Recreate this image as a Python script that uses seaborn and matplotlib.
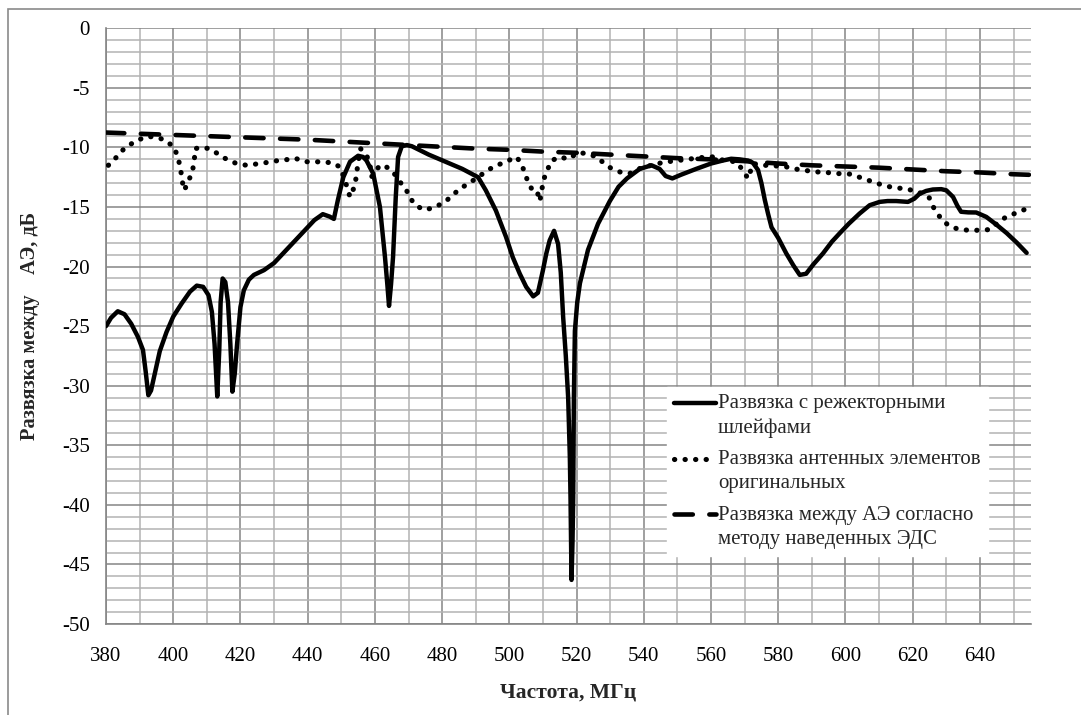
import numpy as np
import pandas as pd
import matplotlib
matplotlib.use("Agg")
import matplotlib.pyplot as plt
from matplotlib.patches import Rectangle
from matplotlib.ticker import MultipleLocator
from matplotlib.legend_handler import HandlerLine2D
from matplotlib.lines import Line2D
import seaborn as sns

# --- data -------------------------------------------------------------------
# Isolation with notch stubs (solid)
freq_notch = [380.0, 381.5, 383.5, 385.5, 387.5, 389.5, 391.0, 391.8, 392.6, 393.4,
              394.5, 396.0, 398.0, 400.0, 402.5, 405.0, 407.0, 408.9, 410.5, 411.5,
              412.3, 413.1, 413.7, 414.1, 414.7, 415.5, 416.3, 417.0, 417.6, 418.3,
              419.0, 420.0, 421.0, 422.5, 424.0, 427.0, 430.0, 433.0, 436.0, 439.0,
              442.0, 444.5, 446.5, 447.8, 449.0, 450.6, 452.6, 455.0, 456.5, 457.5,
              459.5, 461.5, 463.0, 463.7, 464.2, 464.8, 465.4, 466.2, 466.9, 468.0,
              469.5, 471.0, 476.0, 481.0, 486.0, 490.7, 493.0, 496.0, 499.0, 501.0,
              503.1, 505.0, 507.1, 508.5, 510.0, 511.0, 512.0, 513.3, 514.5, 515.3,
              516.0, 516.8, 517.5, 518.0, 518.2, 518.5, 518.8, 519.0, 519.2, 519.5,
              520.2, 521.0, 523.4, 526.4, 529.9, 532.5, 535.0, 538.8, 542.3, 544.7,
              546.5, 548.5, 551.0, 555.6, 560.0, 563.5, 566.0, 568.5, 571.0, 572.5,
              574.0, 575.0, 576.0, 577.0, 578.0, 580.0, 582.4, 584.5, 586.4, 588.3,
              590.5, 593.3, 596.0, 598.3, 601.0, 604.2, 607.2, 610.2, 612.5, 615.1,
              618.6, 620.5, 622.0, 624.0, 626.0, 628.5, 630.0, 632.0, 633.3, 634.4,
              636.5, 638.9, 641.9, 645.0, 648.0, 651.0, 653.9]
iso_notch = [-25.0, -24.3, -23.75, -24.0, -24.8, -25.9, -27.0, -28.8, -30.8, -30.4,
             -29.0, -27.1, -25.5, -24.2, -23.1, -22.1, -21.6, -21.7, -22.4, -23.8,
             -26.5, -30.9, -27.0, -23.0, -21.0, -21.3, -23.0, -26.5, -30.5, -29.0,
             -26.5, -23.4, -22.0, -21.1, -20.7, -20.3, -19.7, -18.8, -17.9, -17.0,
             -16.1, -15.6, -15.8, -16.0, -14.4, -12.5, -11.2, -10.7, -10.8, -11.1,
             -12.2, -15.0, -19.2, -21.5, -23.3, -21.5, -19.2, -14.2, -10.8, -9.9,
             -9.8, -9.9, -10.6, -11.2, -11.8, -12.5, -13.6, -15.3, -17.5, -19.2,
             -20.6, -21.7, -22.5, -22.2, -20.3, -18.9, -17.8, -17.0, -18.1, -20.5,
             -24.2, -27.5, -31.0, -36.0, -39.4, -46.3, -43.0, -39.4, -31.0, -25.4,
             -23.0, -21.4, -18.6, -16.4, -14.5, -13.3, -12.6, -11.8, -11.5, -11.8,
             -12.4, -12.6, -12.3, -11.8, -11.35, -11.1, -10.95, -11.0, -11.1, -11.3,
             -11.9, -13.0, -14.4, -15.6, -16.7, -17.6, -18.9, -19.9, -20.7, -20.6,
             -19.8, -18.9, -17.9, -17.2, -16.4, -15.55, -14.85, -14.57, -14.5, -14.5,
             -14.57, -14.3, -13.9, -13.65, -13.53, -13.5, -13.6, -14.15, -14.9, -15.4,
             -15.45, -15.46, -15.83, -16.5, -17.2, -18.0, -18.85]

# Isolation of the original antenna elements (dotted)
freq_orig = [380.7, 383.0, 385.4, 388.6, 391.9, 394.0, 397.2, 400.2, 401.5, 402.3,
             402.8, 403.3, 404.4, 405.7, 406.3, 406.5, 408.4, 410.7, 413.4, 414.9,
             418.4, 421.8, 425.8, 429.3, 431.7, 434.7, 436.2, 439.2, 442.6, 446.1,
             447.1, 449.6, 451.1, 452.1, 452.6, 454.1, 454.6, 455.7, 457.5, 458.5,
             459.0, 461.5, 463.4, 465.4, 467.2, 469.4, 470.4, 472.4, 474.6, 477.8,
             481.1, 484.8, 487.7, 489.7, 492.2, 495.2, 498.9, 502.1, 503.4, 504.6,
             505.6, 506.6, 508.1, 509.1, 509.6, 510.5, 511.8, 512.5, 515.0, 517.5,
             520.4, 522.9, 525.9, 528.9, 530.4, 533.3, 535.8, 538.8, 542.3, 545.7,
             549.2, 553.1, 556.1, 560.6, 563.6, 567.5, 569.5, 571.0, 572.5, 575.5,
             578.9, 582.4, 585.9, 591.3, 594.3, 597.7, 601.7, 605.2, 608.2, 611.1,
             614.1, 617.1, 621.0, 624.8, 626.5, 628.8, 631.0, 633.9, 636.9, 640.4,
             642.9, 645.3, 647.8, 652.3, 654.7]
iso_orig = [-11.5, -10.85, -10.1, -9.5, -9.1, -9.1, -9.33, -9.95, -10.9, -12.05,
            -13.0, -13.6, -12.9, -12.05, -11.0, -10.1, -10.0, -10.1, -10.55, -10.85,
            -11.3, -11.5, -11.35, -11.2, -11.07, -11.0, -10.9, -11.2, -11.2, -11.26,
            -11.27, -11.63, -12.75, -13.73, -14.15, -13.17, -12.05, -10.09, -10.65, -11.35,
            -12.47, -11.49, -11.63, -12.05, -12.8, -13.59, -14.25, -14.9, -15.25, -15.04,
            -14.51, -13.59, -13.03, -12.69, -12.19, -11.63, -11.21, -10.79, -11.29, -12.1,
            -12.97, -13.45, -13.53, -14.51, -13.59, -12.47, -11.57, -11.12, -10.79, -10.98,
            -10.45, -10.5, -10.79, -11.49, -11.77, -12.1, -12.19, -11.77, -11.49, -11.26,
            -11.12, -11.0, -10.87, -10.79, -11.07, -11.21, -11.91, -12.61, -11.35, -11.49,
            -11.54, -11.63, -11.85, -12.05, -12.1, -12.19, -12.24, -12.61, -12.89, -13.17,
            -13.36, -13.45, -13.65, -14.15, -15.21, -16.11, -16.61, -16.89, -16.95, -16.95,
            -16.89, -16.33, -15.83, -15.33, -15.04]

# Isolation by the induced EMF method (dashed)
freq_emf = [380, 390, 400, 410, 420, 430, 440, 450, 460, 470, 480, 490, 500, 510,
            520, 530, 540, 550, 560, 570, 580, 590, 600, 610, 620, 630, 640, 650, 655]
iso_emf = [-8.75, -8.85, -8.95, -9.05, -9.15, -9.25, -9.35, -9.5, -9.65, -9.8, -9.95,
           -10.1, -10.2, -10.35, -10.45, -10.6, -10.75, -10.9, -11.0, -11.15, -11.35,
           -11.5, -11.6, -11.7, -11.85, -12.0, -12.1, -12.25, -12.3]

labels = ["Развязка с режекторными\nшлейфами",
          "Развязка антенных элементов\nоригинальных",
          "Развязка между АЭ согласно\nметоду наведенных ЭДС"]
x_ticks = list(range(380, 641, 20))
y_ticks = list(range(-50, 1, 5))


class FirstLineHandler(HandlerLine2D):
    """Legend line handler that sits level with the first line of a two-line label."""

    def __init__(self, shift=9.0, **kw):
        super().__init__(**kw)
        self.shift = shift

    def create_artists(self, legend, orig_handle, xdescent, ydescent,
                       width, height, fontsize, trans):
        return super().create_artists(legend, orig_handle, xdescent,
                                      ydescent - 2 * self.shift, width, height,
                                      fontsize, trans)


# --- style ------------------------------------------------------------------
sns.set_theme(style="white")
plt.rcParams["font.family"] = ["Liberation Serif", "DejaVu Serif"]
plt.rcParams["axes.unicode_minus"] = False

fig = plt.figure(figsize=(10.81, 7.15), dpi=100)
ax = fig.add_axes([106 / 1081, 1 - 624 / 715, 925 / 1081, (624 - 28.3) / 715])

major_c = "#858585"
minor_c = "#b3b3b3"

df_notch = pd.DataFrame({"f": freq_notch, "v": iso_notch})
df_orig = pd.DataFrame({"f": freq_orig, "v": iso_orig})
df_emf = pd.DataFrame({"f": freq_emf, "v": iso_emf})

sns.lineplot(data=df_notch, x="f", y="v", ax=ax, color="black", lw=3.2,
             estimator=None, sort=False, label=labels[0], zorder=5,
             solid_joinstyle="round", solid_capstyle="round")
sns.lineplot(data=df_orig, x="f", y="v", ax=ax, color="black", lw=3.7,
             estimator=None, sort=False, label=labels[1], zorder=4,
             dashes=False, linestyle=(0, (0.05, 2.0)), dash_capstyle="round")
sns.lineplot(data=df_emf, x="f", y="v", ax=ax, color="black", lw=3.3,
             estimator=None, sort=False, label=labels[2], zorder=4,
             dashes=False, linestyle=(0, (4.0, 3.6)), dash_capstyle="round")

ax.set_xlim(380, 655.2)
ax.set_ylim(-50, 0)
ax.set_xticks(x_ticks)
ax.set_yticks(y_ticks)
ax.xaxis.set_minor_locator(MultipleLocator(10))
ax.yaxis.set_minor_locator(MultipleLocator(1))

ax.grid(which="minor", color=minor_c, lw=1.1, zorder=0)
ax.grid(which="major", color=major_c, lw=1.1, zorder=1)
ax.set_axisbelow(True)

for s in ["top", "right"]:
    ax.spines[s].set_visible(False)
for s in ["left", "bottom"]:
    ax.spines[s].set_color(major_c)
    ax.spines[s].set_linewidth(1.2)

ax.tick_params(axis="both", which="both", direction="out", color=major_c,
               width=1.1, length=4.5, labelsize=15, labelcolor="black")
ax.tick_params(axis="y", which="minor", length=0)
ax.tick_params(axis="x", which="major", pad=12)
ax.tick_params(axis="y", which="major", pad=7)

ax.set_xlabel("Частота, МГц", fontsize=15.5, fontweight="bold", labelpad=12)
ax.set_ylabel("Развязка между    АЭ, дБ", fontsize=14.7, fontweight="bold")
ax.yaxis.set_label_coords(-0.071, 0.5)

handles, _ = ax.get_legend_handles_labels()
leg = ax.legend(handles, labels, loc="upper left", bbox_to_anchor=(0.6065, 0.398),
                borderaxespad=0, frameon=True, fancybox=False,
                facecolor="white", edgecolor="white", framealpha=1,
                fontsize=15.0, handlelength=2.0, handletextpad=0.1,
                labelspacing=0.6, borderpad=0.35,
                handler_map={Line2D: FirstLineHandler(shift=9.0)})
for t in leg.get_texts():
    t.set_linespacing(1.35)
leg.set_zorder(10)

# chart-area border
fig.patches.append(Rectangle((8 / 1081, -0.1), 1.2, (1 - 9 / 715) + 0.1,
                             transform=fig.transFigure, fill=False,
                             edgecolor="#8a8a8a", lw=1.2))

fig.savefig("out.png", dpi=100, facecolor="white")
